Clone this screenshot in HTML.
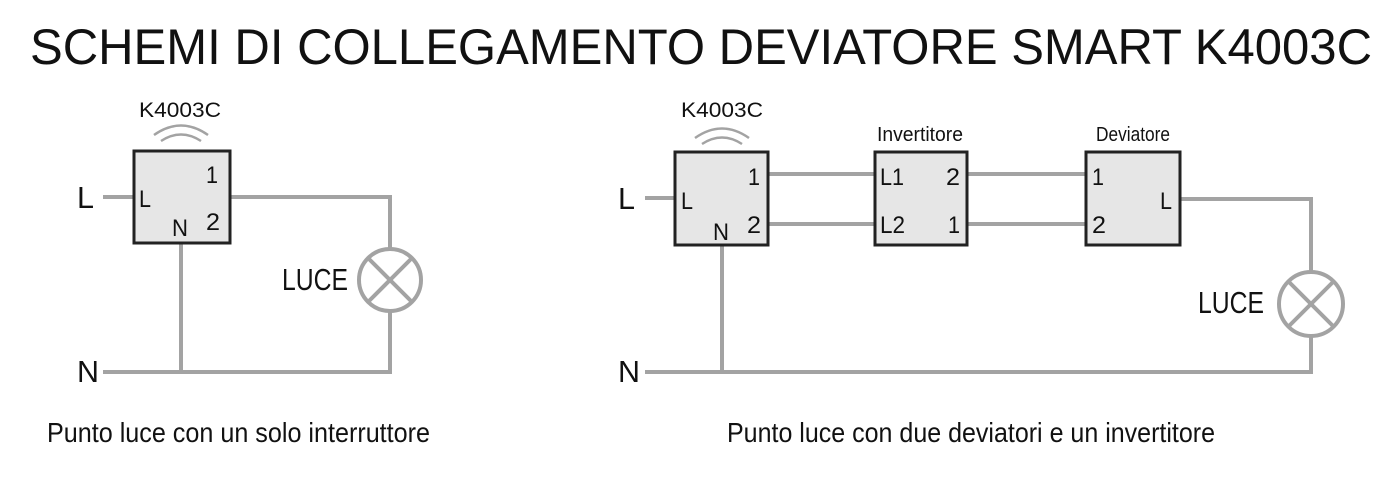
<!DOCTYPE html>
<html><head><meta charset="utf-8"><style>
html,body{margin:0;padding:0;background:#fff;}
svg{display:block;}
text{font-family:"Liberation Sans",sans-serif;fill:#111;}
</style></head><body>
<svg width="1400" height="478" viewBox="0 0 1400 478" xmlns="http://www.w3.org/2000/svg">
<text x="30" y="64" font-size="50" textLength="1342" lengthAdjust="spacingAndGlyphs">SCHEMI DI COLLEGAMENTO  DEVIATORE SMART K4003C</text>

<g stroke="#a3a3a3" stroke-width="4" fill="none">
  <line x1="103" y1="197" x2="133" y2="197"/>
  <polyline points="231,197 390,197 390,249"/>
  <polyline points="390,311 390,372 103,372"/>
  <line x1="181" y1="243" x2="181" y2="372"/>
  <circle cx="390" cy="280" r="31"/>
  <line x1="368" y1="258" x2="412" y2="302"/>
  <line x1="412" y1="258" x2="368" y2="302"/>
  <line x1="645" y1="198" x2="674" y2="198"/>
  <line x1="768" y1="174" x2="874" y2="174"/>
  <line x1="768" y1="224" x2="874" y2="224"/>
  <line x1="967" y1="174" x2="1086" y2="174"/>
  <line x1="967" y1="224" x2="1086" y2="224"/>
  <polyline points="1180,199 1311,199 1311,272"/>
  <polyline points="1311,336 1311,372 645,372"/>
  <line x1="722" y1="245" x2="722" y2="372"/>
  <circle cx="1311" cy="304" r="32"/>
  <line x1="1288" y1="281" x2="1334" y2="327"/>
  <line x1="1334" y1="281" x2="1288" y2="327"/>
  <path d="M154,135 Q181,116 208,135" stroke-width="2.5"/>
  <path d="M161,141 Q181,128 201,141" stroke-width="2.5"/>
  <path d="M695,138 Q722,119 749,138" stroke-width="2.5"/>
  <path d="M702,144 Q722,131 742,144" stroke-width="2.5"/>
</g>

<g fill="#e6e6e6" stroke="#222" stroke-width="3">
  <rect x="134" y="151" width="96" height="92"/>
  <rect x="675" y="152" width="93" height="93"/>
  <rect x="875" y="152" width="92" height="93"/>
  <rect x="1086" y="152" width="94" height="93"/>
</g>

<g font-size="24">
  <text x="139" y="207" textLength="12" lengthAdjust="spacingAndGlyphs">L</text>
  <text x="206" y="183" textLength="12" lengthAdjust="spacingAndGlyphs">1</text>
  <text x="206" y="230" textLength="14" lengthAdjust="spacingAndGlyphs">2</text>
  <text x="172" y="236" textLength="16" lengthAdjust="spacingAndGlyphs">N</text>
  <text x="681" y="209" textLength="12" lengthAdjust="spacingAndGlyphs">L</text>
  <text x="748" y="185" textLength="12" lengthAdjust="spacingAndGlyphs">1</text>
  <text x="747" y="233" textLength="14" lengthAdjust="spacingAndGlyphs">2</text>
  <text x="713" y="240" textLength="16" lengthAdjust="spacingAndGlyphs">N</text>
  <text x="880" y="185" textLength="24" lengthAdjust="spacingAndGlyphs">L1</text>
  <text x="880" y="233" textLength="25" lengthAdjust="spacingAndGlyphs">L2</text>
  <text x="946" y="185" textLength="14" lengthAdjust="spacingAndGlyphs">2</text>
  <text x="948" y="233" textLength="12" lengthAdjust="spacingAndGlyphs">1</text>
  <text x="1092" y="185" textLength="12" lengthAdjust="spacingAndGlyphs">1</text>
  <text x="1092" y="233" textLength="14" lengthAdjust="spacingAndGlyphs">2</text>
  <text x="1160" y="209" textLength="12" lengthAdjust="spacingAndGlyphs">L</text>
</g>
<g font-size="21">
  <text x="139" y="117" textLength="82" lengthAdjust="spacingAndGlyphs">K4003C</text>
  <text x="681" y="117" textLength="82" lengthAdjust="spacingAndGlyphs">K4003C</text>
  <text x="877" y="141" font-size="20" textLength="86" lengthAdjust="spacingAndGlyphs">Invertitore</text>
  <text x="1096" y="141" font-size="20" textLength="74" lengthAdjust="spacingAndGlyphs">Deviatore</text>
</g>
<g font-size="31">
  <text x="77" y="208" textLength="17" lengthAdjust="spacingAndGlyphs">L</text>
  <text x="77" y="382" textLength="22" lengthAdjust="spacingAndGlyphs">N</text>
  <text x="618" y="209" textLength="17" lengthAdjust="spacingAndGlyphs">L</text>
  <text x="618" y="382" textLength="22" lengthAdjust="spacingAndGlyphs">N</text>
  <text x="282" y="290" textLength="66" lengthAdjust="spacingAndGlyphs">LUCE</text>
  <text x="1198" y="313" textLength="66" lengthAdjust="spacingAndGlyphs">LUCE</text>
</g>
<text x="47" y="442" font-size="28" textLength="383" lengthAdjust="spacingAndGlyphs">Punto luce con un solo interruttore</text>
<text x="727" y="442" font-size="28" textLength="488" lengthAdjust="spacingAndGlyphs">Punto luce con due deviatori e un invertitore</text>
</svg>
</body></html>
